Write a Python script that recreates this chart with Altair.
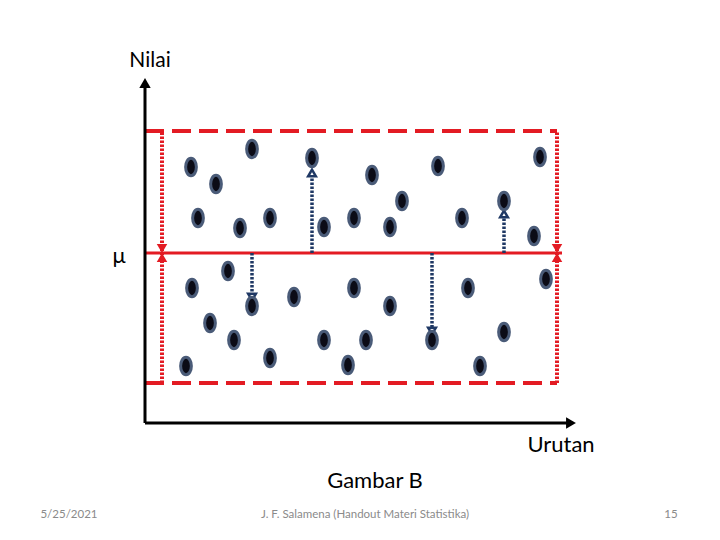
import altair as alt
import pandas as pd

# ---- data (units: Urutan on x, Nilai on y) ----
pt_x = [4.6, 7.1, 10.7, 5.3, 9.5, 12.5, 16.7, 17.9, 20.9, 22.7, 24.5, 25.7, 29.3, 31.7, 35.9, 38.9, 39.5,
        8.3, 4.7, 10.7, 14.9, 20.9, 24.5, 6.5, 8.9, 17.9, 22.1, 4.1, 12.5, 20.3, 28.7, 32.3, 40.1, 35.9, 33.5]
pt_y = [25.6, 23.9, 27.4, 20.5, 19.5, 20.5, 26.5, 19.6, 20.5, 24.8, 19.6, 22.2, 25.7, 20.5, 22.2, 18.7, 26.6,
        15.2, 13.5, 11.7, 12.6, 13.5, 11.7, 10.0, 8.3, 8.3, 8.3, 5.7, 6.5, 5.8, 8.3, 13.5, 14.4, 9.1, 5.7]

mu = 17.0
box_top = 29.2
box_bottom = 4.0
box_left = 1.7
box_right = 41.2
mu_end = 41.7
axis_y_top = 34.0
axis_x_end = 42.6

dev_x = [16.7, 35.9, 10.7, 28.7]
dev_end = [25.0, 20.9, 12.6, 9.2]

txt_labels = ["Nilai", "\u03bc", "Urutan", "Gambar B"]
txt_x = [0.5, -2.6, 41.6, 23.0]
txt_y = [36.2, 16.7, -2.2, -5.8]
txt_size = [21, 22, 22, 22]

foot_labels = ["5/25/2021", "J. F. Salamena (Handout Materi Statistika)", "15"]
foot_x = [-7.6, 22.0, 52.6]
foot_y = [-9.2, -9.2, -9.2]

RED = "#E31B23"
NAVY = "#1F3864"
FONT = "Lato"

xs = alt.Scale(domain=[-13.7, 56.7], nice=False, zero=False)
ys = alt.Scale(domain=[-10.9, 41.5], nice=False, zero=False)

def X(f="x"):
    return alt.X(f"{f}:Q", scale=xs, axis=None)

def Y(f="y"):
    return alt.Y(f"{f}:Q", scale=ys, axis=None)

# axes lines
axes_df = pd.DataFrame({"x": [0, 0], "y": [0, 0], "x2": [0, axis_x_end], "y2": [axis_y_top, 0]})
axes = alt.Chart(axes_df).mark_rule(color="black", strokeWidth=3).encode(
    x=X(), y=Y(), x2="x2:Q", y2="y2:Q")
axhead_df = pd.DataFrame({"x": [0, axis_x_end], "y": [axis_y_top, 0], "s": ["triangle-up", "triangle-right"]})
axheads = alt.Chart(axhead_df).mark_point(filled=True, color="black", size=130, opacity=1).encode(
    x=X(), y=Y(), shape=alt.Shape("s:N", scale=None, legend=None))

# dashed horizontals of the box
hb_df = pd.DataFrame({"x": [0, 0], "x2": [box_right, box_right], "y": [box_top, box_bottom]})
hbox = alt.Chart(hb_df).mark_rule(color=RED, strokeWidth=4, strokeDash=[19, 8]).encode(
    x=X(), x2="x2:Q", y=Y())

# dotted verticals of the box
vb_df = pd.DataFrame({"x": [box_left, box_right], "y": [box_bottom, box_bottom], "y2": [box_top, box_top]})
vbox = alt.Chart(vb_df).mark_rule(color=RED, strokeWidth=4, strokeDash=[2.5, 1.5]).encode(
    x=X(), y=Y(), y2="y2:Q")

# mean line
mu_df = pd.DataFrame({"x": [0], "x2": [mu_end], "y": [mu]})
muline = alt.Chart(mu_df).mark_rule(color=RED, strokeWidth=3).encode(x=X(), x2="x2:Q", y=Y())

# bowtie arrowheads on the mean line
bt_df = pd.DataFrame({
    "x": [box_left, box_left, box_right, box_right],
    "y": [mu + 0.45, mu - 0.45, mu + 0.45, mu - 0.45],
    "s": ["triangle-down", "triangle-up", "triangle-down", "triangle-up"],
})
bow = alt.Chart(bt_df).mark_point(filled=True, color=RED, size=110, opacity=1).encode(
    x=X(), y=Y(), shape=alt.Shape("s:N", scale=None, legend=None))

# deviation arrows
dv_df = pd.DataFrame({"x": dev_x, "y": [mu] * len(dev_x), "y2": dev_end})
dev = alt.Chart(dv_df).mark_rule(color=NAVY, strokeWidth=3.5, strokeDash=[2.5, 1.5]).encode(
    x=X(), y=Y(), y2="y2:Q")
dh_df = pd.DataFrame({"x": dev_x, "y": dev_end,
                      "s": ["triangle-up" if e > mu else "triangle-down" for e in dev_end]})
devhead = alt.Chart(dh_df).mark_point(filled=False, fill="white", color=NAVY, strokeWidth=2.5, size=60, opacity=1).encode(
    x=X(), y=Y(), shape=alt.Shape("s:N", scale=None, legend=None))

# data points (ellipses)
ELLIPSE = "M0,-1 A0.62,1 0 1,1 0,1 A0.62,1 0 1,1 0,-1 Z"
pts_df = pd.DataFrame({"x": pt_x, "y": pt_y})
pts = alt.Chart(pts_df).mark_point(
    shape=ELLIPSE, size=300, filled=True, fill="#0B0B16", stroke="#4A5B78", strokeWidth=3, opacity=1
).encode(x=X(), y=Y())

# texts
tx_df = pd.DataFrame({"x": txt_x, "y": txt_y, "t": txt_labels, "fs": txt_size})
texts = alt.Chart(tx_df).mark_text(font=FONT, color="black", baseline="middle", align="center").encode(
    x=X(), y=Y(), text="t:N", size=alt.Size("fs:Q", scale=None, legend=None))
ft_df = pd.DataFrame({"x": foot_x, "y": foot_y, "t": foot_labels})
foot = alt.Chart(ft_df).mark_text(font=FONT, fontSize=11.5, color="#8A8A8A", baseline="middle", align="center").encode(
    x=X(), y=Y(), text="t:N")

chart = alt.layer(hbox, vbox, muline, dev, devhead, bow, pts, axes, axheads, texts, foot).properties(
    width=704, height=524, autosize=alt.AutoSizeParams(type="none"), padding=0
).configure_view(stroke=None)

chart.save("out.html", embed_options={"renderer": "svg", "actions": False})
